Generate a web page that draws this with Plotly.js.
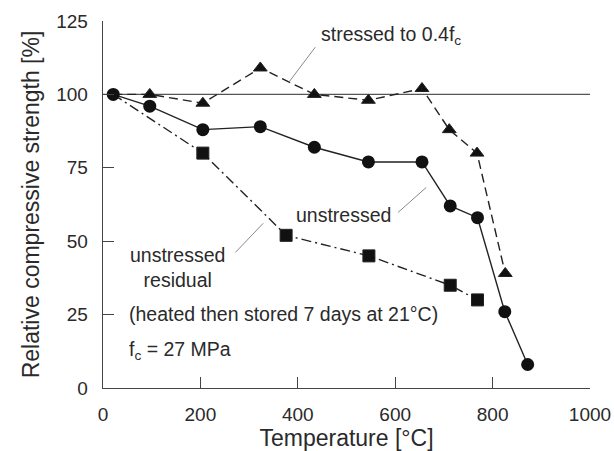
<!DOCTYPE html>
<html>
<head>
<meta charset="utf-8">
<script src="https://cdn.plot.ly/plotly-3.0.1.min.js"></script>
<style>html,body{margin:0;padding:0;background:#fff;}#chart{width:614px;height:451px;}</style>
</head>
<body>
<div id="chart"></div>
<script>
// Data
const unstressedT = [21, 96, 205, 323, 434, 545, 655, 713, 769, 825, 872];
const unstressedS = [100, 96, 88, 89, 82, 77, 77, 62, 58, 26, 8];

const stressedT = [21, 96, 205, 323, 434, 545, 655, 711, 768, 826];
const stressedS = [100, 100, 97, 109, 100, 98, 102, 88, 80, 39];

const residualT = [21, 205, 376, 546, 713, 769];
const residualS = [100, 80, 52, 45, 35, 30];

const refT = [0, 1000];
const refS = [100, 100];

const xTicks = [0, 200, 400, 600, 800, 1000];
const yTicks = [0, 25, 50, 75, 100, 125];

const FONT = 'Liberation Sans, Arial, Helvetica, sans-serif';
const TXT = '#2a2a2a';

const traces = [
  {x: refT, y: refS, mode: 'lines', line: {color: '#555', width: 1.3}, hoverinfo: 'skip'},
  {x: residualT, y: residualS, mode: 'lines+markers',
   line: {color: '#222', width: 1.4, dash: '10px,4px,2px,4px'},
   marker: {symbol: 'square', color: '#111', opacity: 1, size: residualT.map((t, i) => i === 0 ? 0 : 12)}},
  {x: stressedT, y: stressedS, mode: 'lines+markers',
   line: {color: '#222', width: 1.4, dash: '9px,5px'},
   marker: {symbol: 'triangle-up', color: '#111', opacity: 1, size: stressedT.map((t, i) => i === 0 ? 0 : 12)}},
  {x: unstressedT, y: unstressedS, mode: 'lines+markers',
   line: {color: '#222', width: 1.4},
   marker: {symbol: 'circle', color: '#111', opacity: 1, size: 13}}
];

function leader(x1, y1, x2, y2) {
  return {type: 'line', xref: 'x', yref: 'y', x0: x1, y0: y1, x1: x2, y1: y2,
          line: {color: '#8a8a8a', width: 1}};
}

const annFont = {family: FONT, size: 19.5, color: TXT};
const annotations = [
  {x: 444, y: 120, xref: 'x', yref: 'y', text: 'stressed to 0.4f<sub>c</sub>', showarrow: false,
   xanchor: 'left', yanchor: 'middle', font: annFont},
  {x: 393, y: 58.8, xref: 'x', yref: 'y', text: 'unstressed', showarrow: false,
   xanchor: 'left', yanchor: 'middle', font: annFont},
  {x: 152, y: 41, xref: 'x', yref: 'y', text: 'unstressed<br>residual', showarrow: false,
   xanchor: 'center', yanchor: 'middle', align: 'center', font: annFont},
  {x: 49.6, y: 25.3, xref: 'x', yref: 'y', text: '(heated then stored 7 days at 21°C)', showarrow: false,
   xanchor: 'left', yanchor: 'middle', font: annFont},
  {x: 49.6, y: 12.8, xref: 'x', yref: 'y', text: 'f<sub>c</sub> = 27 MPa', showarrow: false,
   xanchor: 'left', yanchor: 'middle', font: annFont}
];

const shapes = [
  leader(436, 116.1, 380.5, 103.9),
  leader(606, 59.8, 663.6, 68.3),
  leader(272, 46.2, 329, 56.1)
];

const layout = {
  width: 614, height: 451,
  margin: {l: 102.5, r: 24, t: 21, b: 63.4},
  paper_bgcolor: '#fff', plot_bgcolor: '#fff',
  showlegend: false,
  font: {family: FONT, color: TXT},
  xaxis: {
    range: [0, 1000], tickvals: xTicks, ticktext: xTicks.map(String),
    ticks: 'inside', ticklen: 11, tickwidth: 1.3, tickcolor: '#444',
    showline: true, linecolor: '#444', linewidth: 1.3, showgrid: false, zeroline: false,
    tickfont: {family: FONT, size: 19, color: TXT}, ticklabelstandoff: 9,
    title: {text: 'Temperature [°C]', font: {family: FONT, size: 23, color: TXT}, standoff: 4}
  },
  yaxis: {
    range: [0, 125], tickvals: yTicks, ticktext: yTicks.map(String),
    ticks: 'inside', ticklen: 11, tickwidth: 1.3, tickcolor: '#444',
    showline: true, linecolor: '#444', linewidth: 1.3, showgrid: false, zeroline: false,
    tickfont: {family: FONT, size: 19, color: TXT}, ticklabelstandoff: 10,
    title: {text: 'Relative compressive strength [%]', font: {family: FONT, size: 23, color: TXT}, standoff: 10}
  },
  annotations: annotations,
  shapes: shapes
};

Plotly.newPlot('chart', traces, layout, {displayModeBar: false, staticPlot: true});
</script>
</body>
</html>
